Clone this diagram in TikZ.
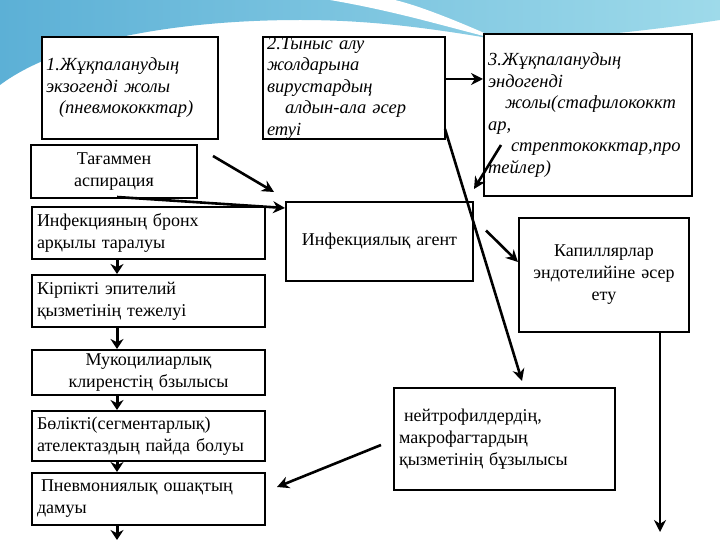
\documentclass[tikz,border=0pt]{standalone}
\usepackage{fontspec}
\setmainfont{Liberation Serif}
\usepackage{tikz}
\usetikzlibrary{arrows.meta}
\definecolor{skyA}{RGB}{92,176,214}
\definecolor{skyB}{RGB}{158,218,234}

\begin{document}
\begin{tikzpicture}[x=1pt,y=-1pt,
  stage/.style={draw,line width=2pt,fill=white,align=left,inner xsep=5pt,inner ysep=0pt,
    font=\fontsize{18}{22}\selectfont},
  route/.style={stage,inner xsep=4pt,font=\itshape\fontsize{18.5}{21.5}\selectfont},
  flow/.style={-{Stealth[length=12pt,width=12pt]},line width=2.6pt},
  down/.style={-{Stealth[length=10pt,width=13pt]},line width=3pt}]
  \useasboundingbox (0,0) rectangle (720,540);
  \fill[white] (0,0) rectangle (720,540);
  % template header
  \shade[left color=skyA,right color=skyB] (0,0) -- (720,0) -- (720,20)
    .. controls (640,32) and (560,40) .. (500,40)
    .. controls (430,28) and (370,20) .. (300,20)
    .. controls (180,20) and (60,40) .. (0,85) -- cycle;
  \fill[white] (330,0) .. controls (400,12) and (450,28) .. (500,40)
    .. controls (460,22) and (420,6) .. (395,0) -- cycle;

  \node[route,text width=168pt,minimum height=102pt] (exog) at (130,88)
    {1.Жұқпаланудың\\экзогенді жолы\\\hspace*{13pt}(пневмококктар)};
  \node[stage,text width=156pt,minimum height=53pt,align=center] (asp) at (114,171.5)
    {Тағаммен\\аспирация};
  \node[route,text width=174pt,minimum height=102pt,inner ysep=-2pt] (resp) at (354,88)
    {2.Тыныс алу\\жолдарына\\вирустардың\\\hspace*{18pt}алдын-ала әсер\\етуі};
  \node[route,text width=200pt,minimum height=162pt] (endog) at (588,115)
    {3.Жұқпаланудың\\эндогенді\\\hspace*{17pt}жолы(стафилококкт\\ар,\\\hspace*{23pt}стрептококктар,про\\тейлер)};
  \node[stage,text width=223pt,minimum height=52pt] (bronch) at (148.5,233)
    {Инфекцияның бронх\\арқылы таралуы};
  \node[stage,text width=223pt,minimum height=52pt] (cilia) at (148.5,301)
    {Кірпікті эпителий\\қызметінің тежелуі};
  \node[stage,text width=223pt,minimum height=45pt,align=center] (mucoc) at (148.5,372.5)
    {Мукоцилиарлық\\клиренстің бзылысы};
  \node[stage,text width=223pt,minimum height=50pt] (atelect) at (148.5,436)
    {Бөлікті(сегментарлық)\\ателектаздың пайда болуы};
  \node[stage,text width=223pt,minimum height=52pt] (focus) at (148.5,499)
    {\hspace*{4pt}Пневмониялық ошақтың\\дамуы};
  \node[stage,text width=177pt,minimum height=79pt,align=center] (agent) at (379.5,241.5)
    {Инфекциялық агент};
  \node[stage,text width=160pt,minimum height=114pt,align=center] (capil) at (604,275)
    {Капиллярлар\\эндотелийіне әсер\\ету};
  \node[stage,text width=211pt,minimum height=102pt] (neutro) at (504.5,439)
    {\hspace*{5pt}нейтрофилдердің,\\макрофагтардың\\қызметінің бұзылысы};

  \coordinate (e3) at (501,145);
  \coordinate (a1) at (213,156);
  \coordinate (fz) at (277,487);
  \coordinate (floor) at (660,532);
  \coordinate (out) at (117,540);

  \draw[flow] ([yshift=9pt]resp.east) -- ([yshift=9pt]resp.east -| endog.west);
  \draw[flow] (e3) -- ([yshift=12pt]agent.north east);
  \draw[flow] ([shift={(-1pt,11pt)}]resp.south east) -- ([shift={(17.5pt,6pt)}]neutro.north);
  \draw[flow] (a1) -- ([shift={(-11pt,9pt)}]agent.north west);
  \draw[flow] ([shift={(3pt,2pt)}]asp.south) -- ([yshift=-7pt]agent.north west);
  \draw[flow] ([shift={(12pt,11pt)}]agent.east) -- ([yshift=13pt]capil.west);
  \draw[flow] ([shift={(-12pt,-6pt)}]neutro.west) -- (fz);
  \draw[flow] ([xshift=56pt]capil.south) -- (floor);
  \foreach \a/\b in {bronch/cilia,cilia/mucoc,mucoc/atelect,atelect/focus}
    \draw[down] ([xshift=-31.5pt]\a.south) -- ([xshift=-31.5pt]\b.north);
  \draw[down] ([xshift=-31.5pt]focus.south) -- (out);
\end{tikzpicture}
\end{document}
